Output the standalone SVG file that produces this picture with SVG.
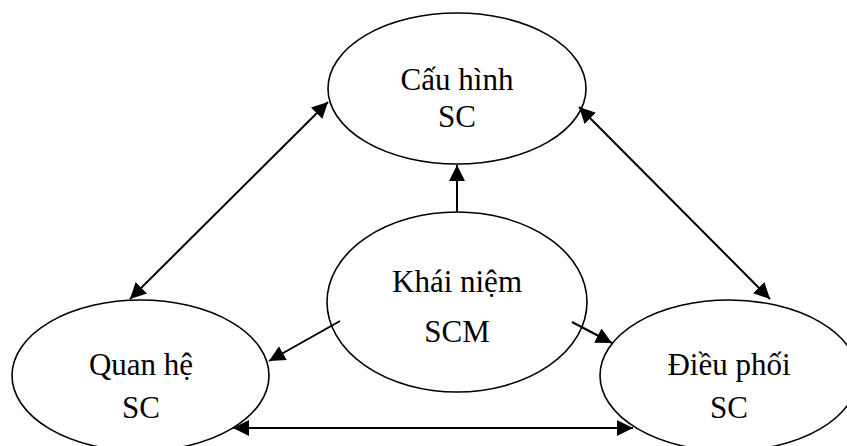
<svg xmlns="http://www.w3.org/2000/svg" width="847" height="446" viewBox="0 0 847 446">
  <style>
    .node ellipse { fill: #ffffff; stroke: #000000; stroke-width: 1.6; }
    .node text { font-family: "Liberation Serif", "Times New Roman", serif; font-size: 31px; fill: #000000; text-anchor: middle; }
    .edge { stroke: #000000; stroke-width: 2; fill: none; }
  </style>
  <defs>
    <marker id="arrow" viewBox="0 0 10 10" refX="10" refY="5" markerWidth="8" markerHeight="8" markerUnits="strokeWidth" orient="auto-start-reverse">
      <path d="M0,0 L10,5 L0,10 Z" fill="#000000"/>
    </marker>
  </defs>

  <rect width="847" height="446" fill="#ffffff"/>

  <g id="node-cau-hinh" class="node">
    <ellipse cx="457" cy="88.5" rx="129" ry="75.5"/>
    <text x="457" y="90">Cấu hình</text>
    <text x="457" y="127">SC</text>
  </g>

  <g id="node-khai-niem" class="node">
    <ellipse cx="457" cy="302" rx="130" ry="90"/>
    <text x="457" y="292">Khái niệm</text>
    <text x="457" y="342">SCM</text>
  </g>

  <g id="node-quan-he" class="node">
    <ellipse cx="140.5" cy="375.5" rx="128.5" ry="75.5"/>
    <text x="141" y="375">Quan hệ</text>
    <text x="141" y="418">SC</text>
  </g>

  <g id="node-dieu-phoi" class="node">
    <ellipse cx="729" cy="375.5" rx="129" ry="75.5"/>
    <text x="729" y="375">Điều phối</text>
    <text x="729" y="418">SC</text>
  </g>

  <g id="connectors">
    <line class="edge" x1="457" y1="212" x2="457" y2="165" marker-end="url(#arrow)"/>
    <line class="edge" x1="130" y1="299" x2="328" y2="102" marker-start="url(#arrow)" marker-end="url(#arrow)"/>
    <line class="edge" x1="579" y1="107" x2="770" y2="299" marker-start="url(#arrow)" marker-end="url(#arrow)"/>
    <line class="edge" x1="233" y1="428" x2="633" y2="428" marker-start="url(#arrow)" marker-end="url(#arrow)"/>
    <line class="edge" x1="340" y1="321" x2="269" y2="361" marker-end="url(#arrow)"/>
    <line class="edge" x1="572" y1="322" x2="612" y2="343" marker-end="url(#arrow)"/>
  </g>
</svg>
